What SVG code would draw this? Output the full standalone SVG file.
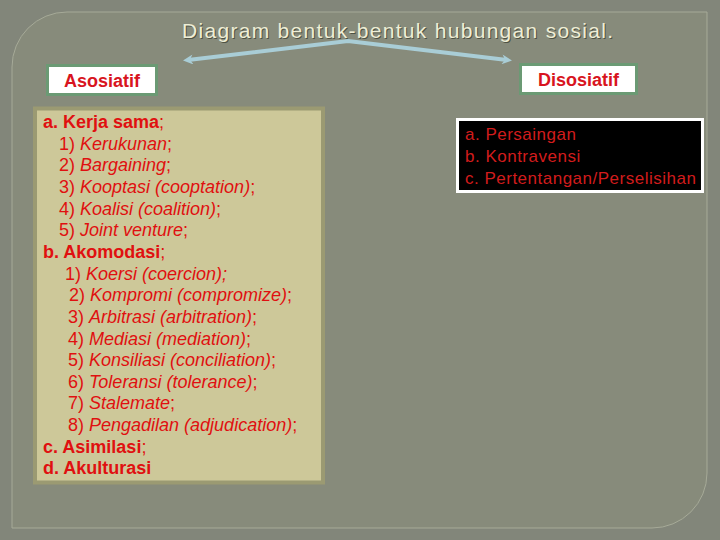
<svg xmlns="http://www.w3.org/2000/svg" width="720" height="540" viewBox="0 0 720 540">
<defs>
<style>
text{font-family:"Liberation Sans",Arial,sans-serif;}
.title{font-size:21px;letter-spacing:1.3px;}
.lbl{font-size:18px;font-weight:bold;fill:#d81420;text-anchor:middle;}
.lst{font-size:18px;fill:#e01010;}
.b{font-weight:bold;}
.i{font-style:italic;}
.dis{font-size:17px;fill:#d21c1c;letter-spacing:0.5px;}
.lblbox{fill:#ffffff;stroke:#6b9a74;stroke-width:3;}
</style>
<marker id="ah" viewBox="0 0 10 10" refX="5" refY="5" markerWidth="12" markerHeight="10" markerUnits="userSpaceOnUse" orient="auto-start-reverse">
<path d="M0,0 L10,5 L0,10 L3,5 Z" fill="#a9cdd6"/>
</marker>
</defs>
<rect width="720" height="540" fill="#82867a"/>
<path d="M67,12 H707 V473 A55,55 0 0 1 652,528 H12 V67 A55,55 0 0 1 67,12 Z" fill="#878b7b" stroke="#a6aa98" stroke-width="1"/>

<g id="title">
<text class="title" x="183" y="39" fill="#4e5244">Diagram bentuk-bentuk hubungan sosial.</text>
<text class="title" x="182" y="38" fill="#eeeed6">Diagram bentuk-bentuk hubungan sosial.</text>
</g>

<g id="connectors">
<path d="M188,60 L348,41 L507,60" fill="none" stroke="#a9cdd6" stroke-width="4" stroke-linejoin="round" marker-start="url(#ah)" marker-end="url(#ah)"/>
</g>

<g id="asosiatif">
<rect class="lblbox" x="47.5" y="65.5" width="109" height="29"/>
<text class="lbl" x="102" y="87">Asosiatif</text>
</g>

<g id="disosiatif">
<rect class="lblbox" x="520.5" y="64.5" width="116" height="29"/>
<text class="lbl" x="578.5" y="86">Disosiatif</text>
</g>

<g id="asosiatif-list">
<rect x="35" y="108.5" width="288" height="374" fill="#cdc899" stroke="#9b9a72" stroke-width="4"/>
<text class="lst" x="43" y="128"><tspan class="b">a. Kerja sama</tspan>;</text>
<text class="lst" x="59" y="149.6">1) <tspan class="i">Kerukunan</tspan>;</text>
<text class="lst" x="59" y="171.3">2) <tspan class="i">Bargaining</tspan>;</text>
<text class="lst" x="59" y="192.9">3) <tspan class="i">Kooptasi (cooptation)</tspan>;</text>
<text class="lst" x="59" y="214.6">4) <tspan class="i">Koalisi (coalition)</tspan>;</text>
<text class="lst" x="59" y="236.2">5) <tspan class="i">Joint venture</tspan>;</text>
<text class="lst" x="43" y="257.9"><tspan class="b">b. Akomodasi</tspan>;</text>
<text class="lst" x="65" y="279.5">1) <tspan class="i">Koersi (coercion);</tspan></text>
<text class="lst" x="69" y="301.2">2) <tspan class="i">Kompromi (compromize)</tspan>;</text>
<text class="lst" x="68" y="322.8">3) <tspan class="i">Arbitrasi (arbitration)</tspan>;</text>
<text class="lst" x="68" y="344.5">4) <tspan class="i">Mediasi (mediation)</tspan>;</text>
<text class="lst" x="68" y="366.1">5) <tspan class="i">Konsiliasi (conciliation)</tspan>;</text>
<text class="lst" x="68" y="387.8">6) <tspan class="i">Toleransi (tolerance)</tspan>;</text>
<text class="lst" x="68" y="409.4">7) <tspan class="i">Stalemate</tspan>;</text>
<text class="lst" x="68" y="431.1">8) <tspan class="i">Pengadilan (adjudication)</tspan>;</text>
<text class="lst" x="43" y="452.7"><tspan class="b">c. Asimilasi</tspan>;</text>
<text class="lst" x="43" y="474.4"><tspan class="b">d. Akulturasi</tspan></text>
</g>

<g id="disosiatif-list">
<rect x="457.5" y="119.5" width="245" height="72" fill="#000000" stroke="#ffffff" stroke-width="3"/>
<text class="dis" x="465" y="140">a. Persaingan</text>
<text class="dis" x="465" y="162">b. Kontravensi</text>
<text class="dis" x="465" y="184">c. Pertentangan/Perselisihan</text>
</g>
</svg>
